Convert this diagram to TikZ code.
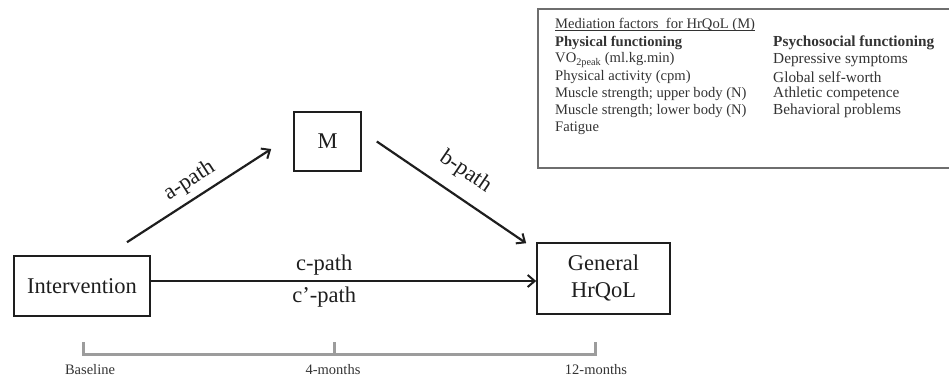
\documentclass[tikz,border=0pt]{standalone}
\usepackage{fontspec}
\setmainfont{Liberation Serif}
\usetikzlibrary{arrows.meta}
\definecolor{inkdark}{HTML}{1E1E1E}
\definecolor{inkgray}{HTML}{333333}
\definecolor{framegray}{HTML}{6E6E6E}
\definecolor{timegray}{HTML}{9C9C9C}
\tikzset{
  model box/.style={
    draw=inkdark,
    line width=1.6pt,
    text=inkdark,
    align=center,
    font=\fontsize{22.5}{27}\selectfont,
  },
  path arrow/.style={
    draw=inkdark,
    line width=2.2pt,
    -{Straight Barb[length=7pt,width=12pt,line width=2pt]},
  },
  path label/.style={
    text=inkdark,
    font=\fontsize{22.5}{27}\selectfont,
  },
  legend text/.style={
    anchor=west,
    inner sep=0pt,
    text=inkgray,
    font=\fontsize{14.6}{17}\selectfont,
  },
  legend text right/.style={
    legend text,
    font=\fontsize{15.3}{17}\selectfont,
  },
  time label/.style={
    text=inkgray,
    font=\fontsize{14.5}{16}\selectfont,
  },
}

\begin{document}
\begin{tikzpicture}[x=1pt, y=-1pt]
      \useasboundingbox (0,0) rectangle (949,378);

      % mediation model
      \node[model box, minimum width=136pt, minimum height=60pt] (interv) at (82,286) {Intervention};
      \node[model box, minimum width=67pt, minimum height=59pt] (med) at (327.5,141.5) {M};
      \node[model box, minimum width=133pt, minimum height=71pt] (hrqol) at (603.5,278.5) {General\\HrQoL};

      \draw[path arrow] ([shift={(45,-13)}]interv.north) -- ([shift={(-22,7.5)}]med.west)
        node[path label, midway, sloped, above=3pt] {a-path};
      \draw[path arrow] ([shift={(15,0)}]med.east) -- ([shift={(-10,1)}]hrqol.north west)
        node[path label, midway, sloped, above=10pt] {b-path};
      \draw[path arrow] ([yshift=5pt]interv.east) -- ([yshift=5pt]interv.east -| hrqol.west)
        node[path label, pos=0.45, above=1pt] {c-path}
        node[path label, pos=0.45, below=1pt] {c’-path};

      % time line
      \coordinate (t0) at (83,354);
      \coordinate (t1) at (334,354);
      \coordinate (t2) at (595,354);
      \draw[timegray, line width=3pt] ([yshift=12pt]t0) -- (t0) -- (t2) -- ([yshift=12pt]t2);
      \draw[timegray, line width=3pt] (t1) -- ([yshift=12pt]t1);
      \node[time label] (base) at (90,370) {Baseline};
      \node[time label] (four) at (333,370) {4-months};
      \node[time label] (twelve) at (596,370) {12-months};

      % legend
      \begin{scope}
        \clip (0,0) rectangle (949,378);
        \draw[framegray, line width=1.3pt] (538,9) rectangle (960,168);
      \end{scope}
      \node[legend text] (ltitle) at (555,25) {Mediation factors\ \ for HrQoL (M)};
      \draw[inkgray, line width=0.7pt] ([yshift=-2pt]ltitle.base west) -- ([yshift=-2pt]ltitle.base east);
      \node[legend text] (phys) at (555,43) {\textbf{Physical functioning}};
      \node[legend text] (phys1) at (555,60) {VO\textsubscript{2peak} (ml.kg.min)};
      \node[legend text] (phys2) at (555,77) {Physical activity (cpm)};
      \node[legend text] (phys3) at (555,94) {Muscle strength; upper body (N)};
      \node[legend text] (phys4) at (555,111) {Muscle strength; lower body (N)};
      \node[legend text] (phys5) at (555,128) {Fatigue};
      \node[legend text right] (psy) at (773,43) {\textbf{Psychosocial functioning}};
      \node[legend text right] (psy1) at (773,60) {Depressive symptoms};
      \node[legend text right] (psy2) at (773,77) {Global self-worth};
      \node[legend text right] (psy3) at (773,94) {Athletic competence};
      \node[legend text right] (psy4) at (773,111) {Behavioral problems};
    \end{tikzpicture}
\end{document}
